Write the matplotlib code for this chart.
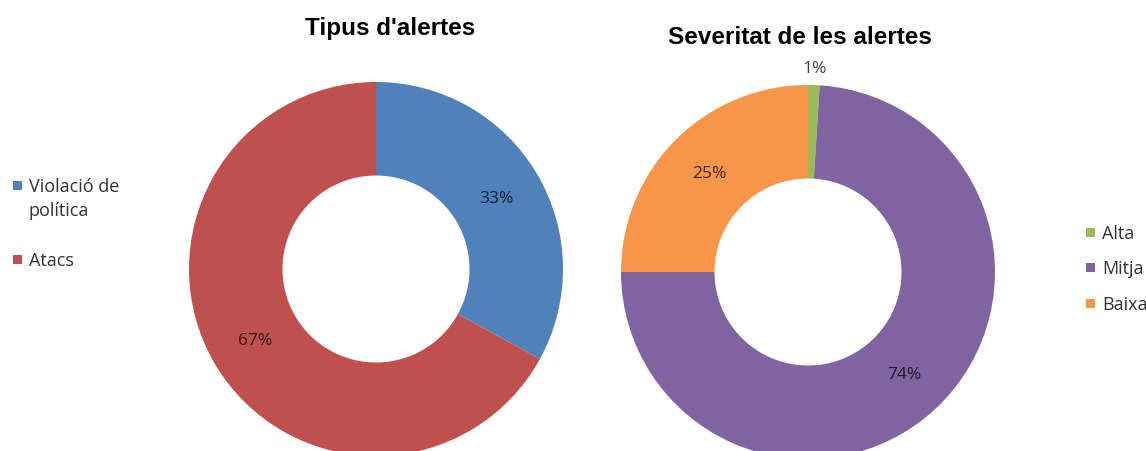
import matplotlib
matplotlib.use("Agg")
import matplotlib.pyplot as plt
import numpy as np
from matplotlib.patches import Rectangle

# dades
tipus_labels = ["Violació de\npolítica", "Atacs"]
tipus_vals = [33, 67]
tipus_colors = ["#4F81BD", "#C0504D"]

sev_labels = ["Alta", "Mitja", "Baixa"]
sev_vals = [1, 74, 25]
sev_colors = ["#9BBB59", "#8064A2", "#F79646"]

W, H = 1146, 452
R = 187          # radi exterior en px
LIM = 1.35

plt.rcParams['font.family'] = ['Open Sans', 'DejaVu Sans']

fig = plt.figure(figsize=(W / 100, H / 100), dpi=100)


def donut(cx, cy, vals, colors, title, tx, ty):
    side = 2 * R * LIM
    ax = fig.add_axes([(cx - side / 2) / W, (H - cy - side / 2) / H, side / W, side / H])
    wedges, _ = ax.pie(vals, colors=colors, startangle=90, counterclock=False,
                       radius=1, wedgeprops=dict(width=0.5, linewidth=0))
    ax.set_xlim(-LIM, LIM)
    ax.set_ylim(-LIM, LIM)
    ax.set_aspect('equal')
    ax.axis('off')
    for w, v in zip(wedges, vals):
        ang = np.deg2rad((w.theta1 + w.theta2) / 2)
        r = 0.75 if v >= 5 else 1.09
        ax.text(r * np.cos(ang), r * np.sin(ang), "%d%%" % v, ha='center', va='center',
                fontsize=12.5, color='black', alpha=0.75)
    fig.text(tx / W, 1 - ty / H, title, ha='center', va='center',
             fontsize=17.5, fontweight='bold', family='Liberation Sans')


def llegenda(x, y, labels, colors, sep, line_h=25):
    # llegenda a ma: quadrat alineat amb la primera linia del text
    for lab, c in zip(labels, colors):
        fig.add_artist(Rectangle((x / W, 1 - (y + 4.5) / H), 9 / W, 9 / H,
                                 transform=fig.transFigure, color=c, lw=0))
        fig.text((x + 16) / W, 1 - (y - 8) / H, lab, ha='left', va='top',
                 fontsize=13, color='#333333', linespacing=1.45)
        y += line_h * (lab.count("\n") + 1) + sep


donut(376, 270, tipus_vals, tipus_colors, "Tipus d'alertes", 390, 28)
donut(808, 273, sev_vals, sev_colors, "Severitat de les alertes", 800, 38)

llegenda(13, 186, tipus_labels, tipus_colors, 24)
llegenda(1086, 233, sev_labels, sev_colors, 10.5)

fig.savefig("out.png", dpi=100)
